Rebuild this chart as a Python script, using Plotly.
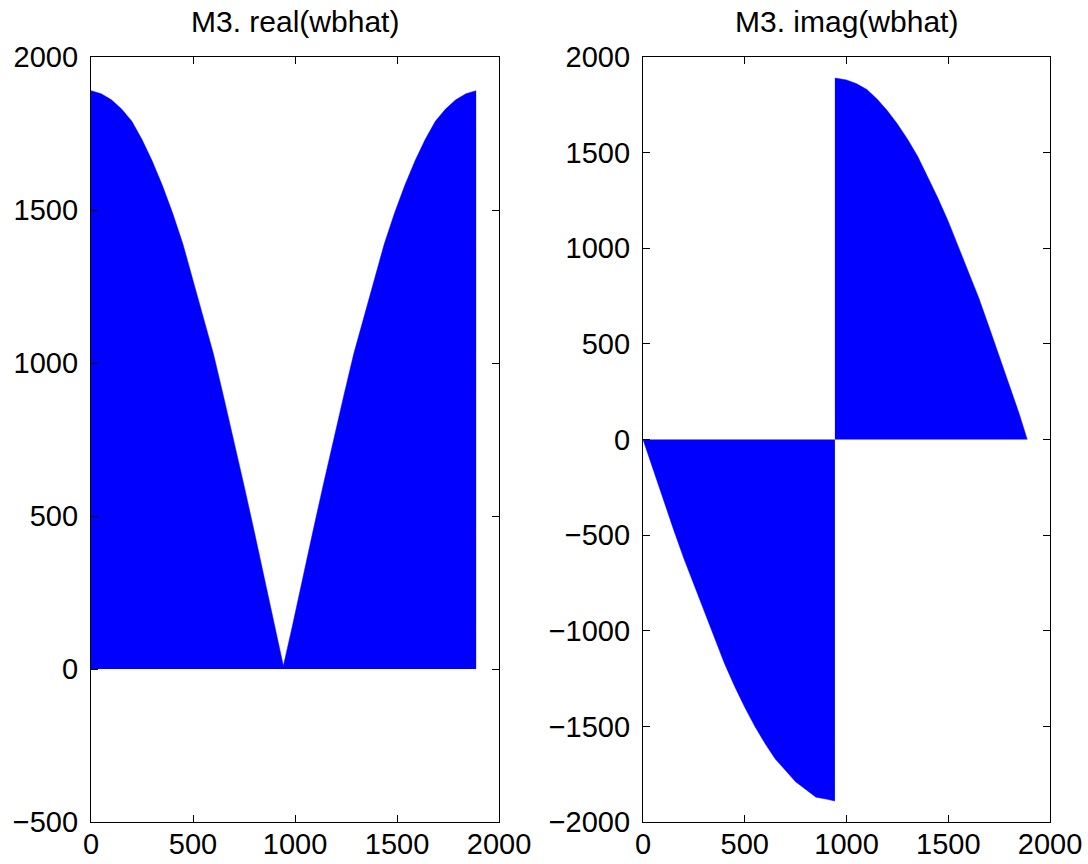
import plotly.graph_objects as go

# Real part envelope of wbhat (sample index vs value)
real_k = [0, 50, 100, 150, 200, 250, 300, 350, 400, 450, 500, 550, 600, 650,
          700, 750, 800, 850, 900, 943,
          987, 1038, 1088, 1138, 1188, 1238, 1288, 1338, 1388, 1438, 1488,
          1538, 1588, 1638, 1688, 1738, 1788, 1838, 1888]
real_v = [1890, 1880, 1860, 1830, 1790, 1730, 1660, 1580, 1490, 1390, 1270,
          1150, 1030, 890, 750, 600, 450, 300, 140, 10,
          140, 300, 450, 600, 750, 890, 1030, 1150, 1270, 1390, 1490,
          1580, 1660, 1730, 1790, 1830, 1860, 1880, 1890]

# Imaginary part envelope: negative lobe, then positive lobe
imag_neg_k = [0, 50, 100, 150, 200, 250, 300, 350, 400, 450, 500, 550, 600,
              650, 700, 750, 800, 850, 900, 943]
imag_neg_v = [0, -160, -310, -470, -620, -760, -900, -1040, -1170, -1290,
              -1400, -1500, -1590, -1670, -1730, -1790, -1830, -1870, -1880, -1890]
imag_pos_k = [943, 1000, 1050, 1100, 1150, 1200, 1250, 1300, 1350, 1400, 1450,
              1500, 1550, 1600, 1650, 1700, 1750, 1800, 1850, 1888]
imag_pos_v = [1890, 1880, 1860, 1830, 1780, 1720, 1650, 1570, 1480, 1370,
              1260, 1140, 1010, 880, 740, 590, 440, 280, 130, 0]

titles = ["M3. real(wbhat)", "M3. imag(wbhat)"]
x_ticks = [0, 500, 1000, 1500, 2000]
y_ticks_real = [-500, 0, 500, 1000, 1500, 2000]
y_ticks_imag = [-2000, -1500, -1000, -500, 0, 500, 1000, 1500, 2000]

BLUE = "#0000ff"
FONT = "Liberation Sans, Arial, Helvetica, sans-serif"

fig = go.Figure()

def area(x, y, xa, ya):
    fig.add_trace(go.Scatter(
        x=x, y=y, mode="lines", fill="tozeroy", fillcolor=BLUE,
        line=dict(color=BLUE, width=0.5), xaxis=xa, yaxis=ya,
        showlegend=False, hoverinfo="skip"))

area(real_k, real_v, "x", "y")
area(imag_neg_k, imag_neg_v, "x2", "y2")
area(imag_pos_k, imag_pos_v, "x2", "y2")

W, H = 1088, 864
ax_common = dict(
    showgrid=False, zeroline=False, showline=True, linecolor="black",
    linewidth=1.2, mirror="allticks", ticks="inside", ticklen=7,
    tickwidth=1, tickcolor="black", automargin=False,
    tickfont=dict(family=FONT, size=29, color="black"),
)

y_dom = [1 - 822 / H, 1 - 57 / H]
fig.update_layout(
    width=W, height=H, margin=dict(l=0, r=0, t=0, b=0),
    paper_bgcolor="white", plot_bgcolor="white",
    xaxis=dict(domain=[91 / W, 499 / W], range=[0, 2000], tickvals=x_ticks,
               anchor="y", ticklabelstandoff=-4, **ax_common),
    yaxis=dict(domain=y_dom, range=[-500, 2000], tickvals=y_ticks_real,
               anchor="x", ticklabelstandoff=6, **ax_common),
    xaxis2=dict(domain=[643 / W, 1050 / W], range=[0, 2000], tickvals=x_ticks,
                anchor="y2", ticklabelstandoff=-4, **ax_common),
    yaxis2=dict(domain=y_dom, range=[-2000, 2000], tickvals=y_ticks_imag,
                anchor="x2", ticklabelstandoff=6, **ax_common),
)

for cx, t in zip([(91 + 499) / 2 / W, (643 + 1050) / 2 / W], titles):
    fig.add_annotation(x=cx, y=1 - 22 / H, xref="paper", yref="paper",
                       text=t, showarrow=False, xanchor="center", yanchor="middle",
                       font=dict(family=FONT, size=30, color="black"))

fig.write_html("out.html")
